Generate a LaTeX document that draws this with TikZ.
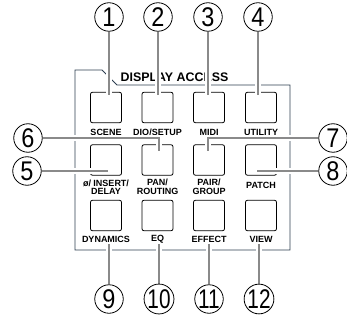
\documentclass[tikz,border=0pt]{standalone}
\usepackage{fontspec}
\setmainfont{Liberation Sans}
\usepackage{xcolor}
\definecolor{Panel}{RGB}{45,62,80}
\definecolor{Leader}{RGB}{138,138,138}
\pgfdeclarelayer{front}
\pgfsetlayers{main,front}
\newcommand{\callnum}[1]{\scalebox{0.87}[1]{#1}}
\newcommand{\callnumw}[1]{\scalebox{0.77}[1]{#1}}

\begin{document}
\begin{tikzpicture}[x=1pt,y=-1pt,
  btn/.style={draw, rounded corners=2pt, line width=0.8pt, minimum width=31pt, minimum height=30.5pt, inner sep=0pt},
  lbl/.style={font=\fontsize{9}{8.5}\selectfont\bfseries, align=center, inner sep=0pt},
  num/.style={draw, circle, line width=0.8pt, minimum size=28.5pt, inner sep=0pt, font=\fontsize{27}{27}\selectfont},
  lead/.style={draw=Leader, line width=1.8pt, preaction={draw=white, line width=5.5pt}}]
\useasboundingbox (0,0) rectangle (347,320);

\draw[Panel, line width=0.9pt] (75,250) -- (75,70) -- (102,70) -- (117,85) -- (290,85) -- (290,250) -- cycle;
\node[font=\fontsize{12.4}{12.4}\selectfont\bfseries, inner sep=0pt] (access) at (174.5,77) {DISPLAY ACCESS};

\node[btn] (scene) at (106,107.5) {};
\node[btn] (dio) at (157.5,107.5) {};
\node[btn] (midi) at (209,107.5) {};
\node[btn] (utility) at (261,107.5) {};
\node[btn] (insert) at (106,160) {};
\node[btn] (pan) at (157.5,160) {};
\node[btn] (pair) at (209,160) {};
\node[btn] (patch) at (261,160) {};
\node[btn] (dynamics) at (106,215.5) {};
\node[btn] (eq) at (157.5,215.5) {};
\node[btn] (effect) at (209,215.5) {};
\node[btn] (view) at (261,215.5) {};

\node[lbl] (scenelbl) at (106,132) {SCENE};
\node[lbl] (diolbl) at (157.5,132) {DIO/SETUP};
\node[lbl] (midilbl) at (209,132) {MIDI};
\node[lbl] (utilitylbl) at (261,132) {UTILITY};
\node[lbl] (insertlbl) at (106,187) {ø/ INSERT/\\DELAY};
\node[lbl] (panlbl) at (157.5,187) {PAN/\\ROUTING};
\node[lbl] (pairlbl) at (209,187) {PAIR/\\GROUP};
\node[lbl] (patchlbl) at (261,185) {PATCH};
\node[lbl] (dynamicslbl) at (106,239) {DYNAMICS};
\node[lbl] (eqlbl) at (157.5,239) {EQ};
\node[lbl] (effectlbl) at (209,239) {EFFECT};
\node[lbl] (viewlbl) at (261,239) {VIEW};

\begin{pgfonlayer}{front}
\node[num] (n1) at (109,17) {\callnum{1}};
\node[num] (n2) at (158,17) {\callnum{2}};
\node[num] (n3) at (208,17) {\callnum{3}};
\node[num] (n4) at (258,17) {\callnum{4}};
\node[num] (n5) at (27,171) {\callnum{5}};
\node[num] (n6) at (28,138) {\callnum{6}};
\node[num] (n7) at (333,138) {\callnum{7}};
\node[num] (n8) at (333,171) {\callnum{8}};
\node[num] (n9) at (109,299) {\callnum{9}};
\node[num] (n10) at (159,299) {\callnumw{10}};
\node[num] (n11) at (209,299) {\callnumw{11}};
\node[num] (n12) at (259,299) {\callnumw{12}};
\end{pgfonlayer}

\coordinate (e1) at (109,95);
\coordinate (e2) at (158,95);
\coordinate (e3) at (208,95);
\coordinate (e4) at (258,95);
\coordinate (e5) at (108,171);
\coordinate (e6) at (159,151);
\coordinate (e7) at (208,151);
\coordinate (e8) at (257,171);
\coordinate (b9) at (109,244);
\coordinate (b10) at (159,244);
\coordinate (b11) at (209,244);
\coordinate (b12) at (259,244);

\draw[lead] (n1) -- (e1);
\draw[lead] (n2) -- (e2);
\draw[lead] (n3) -- (e3);
\draw[lead] (n4) -- (e4);
\draw[lead] (n5) -- (e5);
\draw[lead] (n6) -| (e6);
\draw[lead] (n7) -| (e7);
\draw[lead] (n8) -- (e8);
\draw[lead] (b9) -- (n9);
\draw[lead] (b10) -- (n10);
\draw[lead] (b11) -- (n11);
\draw[lead] (b12) -- (n12);
\end{tikzpicture}
\end{document}
